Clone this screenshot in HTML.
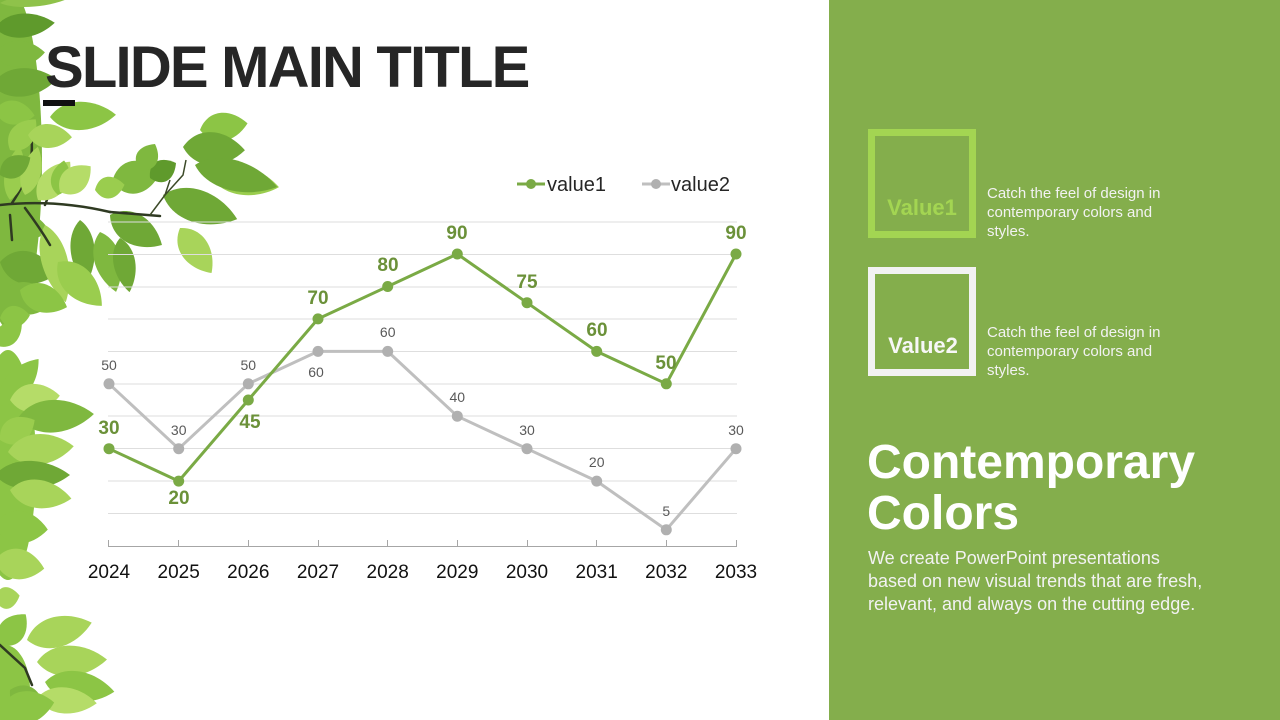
<!DOCTYPE html>
<html>
<head>
<meta charset="utf-8">
<style>
  html,body{margin:0;padding:0;background:#fff;}
  body{width:1280px;height:720px;overflow:hidden;position:relative;font-family:"Liberation Sans",sans-serif;}
  svg{position:absolute;left:0;top:0;}
</style>
</head>
<body>
<svg width="1280" height="720" viewBox="0 0 1280 720" xmlns="http://www.w3.org/2000/svg">
  <defs>
    <path id="lf" d="M0 0C22 -15 68 -14 100 0C68 14 22 15 0 0Z"/>
  </defs>
  <rect x="0" y="0" width="1280" height="720" fill="#ffffff"/>

  <!-- dense base foliage -->
  <g>
    <ellipse cx="10" cy="160" rx="32" ry="170" fill="#7fb83f"/>
    <ellipse cx="8" cy="465" rx="28" ry="115" fill="#8cc545"/>
    <ellipse cx="5" cy="690" rx="25" ry="45" fill="#8cc545"/>
  </g>

  <!-- branches -->
  <g stroke="#2f3a22" stroke-width="2.5" fill="none" stroke-linecap="round">
    <path d="M30 130 Q38 165 12 203"/>
    <path d="M58 170 L45 205"/>
  </g>

  <!-- leaves -->
  <g>
    <!-- top-left -->
    <use href="#lf" transform="translate(0 3) rotate(-3) scale(0.66 0.5)" fill="#8fc24a"/>
    <use href="#lf" transform="translate(-5 28) rotate(-5) scale(0.6 1.1)" fill="#5f9a2c"/>
    <use href="#lf" transform="translate(-5 55) rotate(-3) scale(0.5 1.2)" fill="#7fb83f"/>
    <use href="#lf" transform="translate(-8 85) rotate(-5) scale(0.65 1.3)" fill="#6fa836"/>
    <use href="#lf" transform="translate(-5 110) rotate(8) scale(0.4 1.1)" fill="#8cc545"/>
    <use href="#lf" transform="translate(10 150) rotate(-50) scale(0.4 1.1)" fill="#9acd4e"/>
    <use href="#lf" transform="translate(50 117) rotate(-2) scale(0.66 1.3)" fill="#8cc545"/>
    <use href="#lf" transform="translate(28 135) rotate(3) scale(0.44 1.1)" fill="#a8d45a"/>
    <use href="#lf" transform="translate(10 200) rotate(-80) scale(0.55 0.9)" fill="#9acd4e"/>
    <use href="#lf" transform="translate(25 195) rotate(-75) scale(0.5 0.9)" fill="#a8d45a"/>
    <use href="#lf" transform="translate(38 200) rotate(-50) scale(0.5 1.2)" fill="#b5dc68"/>
    <use href="#lf" transform="translate(58 195) rotate(-80) scale(0.35 0.9)" fill="#8cc545"/>
    <use href="#lf" transform="translate(0 175) rotate(-30) scale(0.35 1.0)" fill="#6fa836"/>

    <!-- branch cluster -->
    <use href="#lf" transform="translate(200 130) rotate(-8) scale(0.48 1.3)" fill="#8cc545"/>
    <use href="#lf" transform="translate(183 147) rotate(3) scale(0.62 1.5)" fill="#6fa836"/>
    <use href="#lf" transform="translate(210 175) rotate(10) scale(0.7 1.3)" fill="#9acd4e"/>
    <use href="#lf" transform="translate(195 165) rotate(15) scale(0.85 1.4)" fill="#6fa836"/>
    <use href="#lf" transform="translate(112 182) rotate(-12) scale(0.5 1.5)" fill="#7fb83f"/>
    <use href="#lf" transform="translate(150 178) rotate(-30) scale(0.3 1.0)" fill="#5f9a2c"/>
    <use href="#lf" transform="translate(163 195) rotate(18) scale(0.78 1.5)" fill="#6fa836"/>
    <use href="#lf" transform="translate(110 215) rotate(30) scale(0.6 1.4)" fill="#6fa836"/>
    <use href="#lf" transform="translate(180 228) rotate(55) scale(0.55 1.3)" fill="#a8d45a"/>
    <use href="#lf" transform="translate(80 220) rotate(85) scale(0.65 1.1)" fill="#6fa836"/>
    <use href="#lf" transform="translate(100 232) rotate(75) scale(0.62 1.2)" fill="#7fb83f"/>
    <use href="#lf" transform="translate(120 238) rotate(80) scale(0.55 1.0)" fill="#6fa836"/>
    <use href="#lf" transform="translate(60 192) rotate(-40) scale(0.4 1.2)" fill="#b5dc68"/>
    <use href="#lf" transform="translate(95 190) rotate(-10) scale(0.3 1.0)" fill="#9acd4e"/>
    <use href="#lf" transform="translate(140 170) rotate(-60) scale(0.3 1.0)" fill="#7fb83f"/>
    <use href="#lf" transform="translate(0 222) rotate(10) scale(0.5 1.3)" fill="#7fb83f"/>
    <use href="#lf" transform="translate(0 262) rotate(12) scale(0.58 1.5)" fill="#6fa836"/>
    <use href="#lf" transform="translate(0 295) rotate(8) scale(0.55 1.5)" fill="#7fb83f"/>
    <use href="#lf" transform="translate(45 225) rotate(75) scale(0.8 1.2)" fill="#a8d45a"/>
    <use href="#lf" transform="translate(58 262) rotate(45) scale(0.62 1.4)" fill="#9acd4e"/>
    <use href="#lf" transform="translate(20 290) rotate(20) scale(0.5 1.3)" fill="#8cc545"/>
    <use href="#lf" transform="translate(0 318) rotate(-5) scale(0.3 1.0)" fill="#8cc545"/>

    <!-- middle-left -->
    <use href="#lf" transform="translate(-5 345) rotate(-40) scale(0.35 1.0)" fill="#8cc545"/>
    <use href="#lf" transform="translate(0 405) rotate(-50) scale(0.6 1.2)" fill="#8cc545"/>
    <use href="#lf" transform="translate(10 400) rotate(-5) scale(0.5 1.3)" fill="#b5dc68"/>
    <use href="#lf" transform="translate(18 418) rotate(-3) scale(0.76 1.5)" fill="#7fb83f"/>
    <use href="#lf" transform="translate(0 440) rotate(-30) scale(0.4 1.2)" fill="#9acd4e"/>
    <use href="#lf" transform="translate(8 452) rotate(-5) scale(0.66 1.4)" fill="#a8d45a"/>
    <use href="#lf" transform="translate(-5 475) rotate(0) scale(0.75 1.3)" fill="#6fa836"/>
    <use href="#lf" transform="translate(10 490) rotate(8) scale(0.62 1.3)" fill="#a8d45a"/>
    <use href="#lf" transform="translate(-5 525) rotate(5) scale(0.53 1.5)" fill="#8cc545"/>
    <use href="#lf" transform="translate(-5 560) rotate(10) scale(0.5 1.4)" fill="#a8d45a"/>

    <!-- bottom -->
    <use href="#lf" transform="translate(-5 600) rotate(-10) scale(0.25 1.0)" fill="#a8d45a"/>
    <use href="#lf" transform="translate(0 645) rotate(-50) scale(0.4 1.2)" fill="#8cc545"/>
    <use href="#lf" transform="translate(27 640) rotate(-15) scale(0.67 1.4)" fill="#a8d45a"/>
    <use href="#lf" transform="translate(37 662) rotate(-2) scale(0.7 1.4)" fill="#a8d45a"/>
    <use href="#lf" transform="translate(45 682) rotate(8) scale(0.7 1.4)" fill="#8cc545"/>
    <use href="#lf" transform="translate(10 690) rotate(30) scale(0.4 1.2)" fill="#7fb83f"/>
    <use href="#lf" transform="translate(37 698) rotate(5) scale(0.6 1.2)" fill="#b5dc68"/>
    <use href="#lf" transform="translate(0 712) rotate(-10) scale(0.55 1.5)" fill="#8cc545"/>
  </g>

  <!-- branches over leaves -->
  <g stroke="#2f3a22" stroke-width="2.5" fill="none" stroke-linecap="round">
    <path d="M0 205 Q55 199 110 212"/>
    <path d="M25 208 Q40 228 50 245"/>
    <path d="M10 215 L12 240"/>
    <path d="M110 212 L160 216"/>
    <path d="M0 645 L25 668 L32 685"/>
  </g>
  <g stroke="#3c4a28" stroke-width="1.5" fill="none">
    <path d="M150 215 L165 195 L183 175 L186 160"/>
    <path d="M165 195 L170 180"/>
  </g>

  <!-- title -->
  <text x="45" y="87" font-family="Liberation Sans, sans-serif" font-weight="bold" font-size="58" letter-spacing="-1.8" fill="#262626">SLIDE MAIN TITLE</text>
  <rect x="43" y="100" width="32" height="6" fill="#111111"/>

  <!-- gridlines -->
  <g stroke="#dedede" stroke-width="1">
    <line x1="108" y1="222" x2="737" y2="222"/>
    <line x1="108" y1="254.5" x2="737" y2="254.5"/>
    <line x1="108" y1="287" x2="737" y2="287"/>
    <line x1="108" y1="319" x2="737" y2="319"/>
    <line x1="108" y1="351.5" x2="737" y2="351.5"/>
    <line x1="108" y1="384" x2="737" y2="384"/>
    <line x1="108" y1="416" x2="737" y2="416"/>
    <line x1="108" y1="448.5" x2="737" y2="448.5"/>
    <line x1="108" y1="481" x2="737" y2="481"/>
    <line x1="108" y1="513.5" x2="737" y2="513.5"/>
  </g>
  <!-- axis -->
  <g stroke="#a6a6a6" stroke-width="1">
    <line x1="108" y1="546.5" x2="737" y2="546.5"/>
    <line x1="108.5" y1="540" x2="108.5" y2="547"/>
    <line x1="178.5" y1="540" x2="178.5" y2="547"/>
    <line x1="248.5" y1="540" x2="248.5" y2="547"/>
    <line x1="318.5" y1="540" x2="318.5" y2="547"/>
    <line x1="387.5" y1="540" x2="387.5" y2="547"/>
    <line x1="457.5" y1="540" x2="457.5" y2="547"/>
    <line x1="527.5" y1="540" x2="527.5" y2="547"/>
    <line x1="596.5" y1="540" x2="596.5" y2="547"/>
    <line x1="666.5" y1="540" x2="666.5" y2="547"/>
    <line x1="736.5" y1="540" x2="736.5" y2="547"/>
  </g>

  <!-- x labels -->
  <g font-family="Liberation Sans, sans-serif" font-size="19" fill="#111" text-anchor="middle">
    <text x="109" y="578">2024</text>
    <text x="178.7" y="578">2025</text>
    <text x="248.3" y="578">2026</text>
    <text x="318" y="578">2027</text>
    <text x="387.7" y="578">2028</text>
    <text x="457.3" y="578">2029</text>
    <text x="527" y="578">2030</text>
    <text x="596.7" y="578">2031</text>
    <text x="666.3" y="578">2032</text>
    <text x="736" y="578">2033</text>
  </g>

  <!-- value2 series -->
  <polyline fill="none" stroke="#bfbfbf" stroke-width="3" stroke-linejoin="round"
    points="109,383.8 178.7,448.7 248.3,383.8 318,351.4 387.7,351.4 457.3,416.2 527,448.7 596.7,481.1 666.3,529.8 736,448.7"/>
  <g fill="#b0b0b0">
    <circle cx="109" cy="383.8" r="5.5"/>
    <circle cx="178.7" cy="448.7" r="5.5"/>
    <circle cx="248.3" cy="383.8" r="5.5"/>
    <circle cx="318" cy="351.4" r="5.5"/>
    <circle cx="387.7" cy="351.4" r="5.5"/>
    <circle cx="457.3" cy="416.2" r="5.5"/>
    <circle cx="527" cy="448.7" r="5.5"/>
    <circle cx="596.7" cy="481.1" r="5.5"/>
    <circle cx="666.3" cy="529.8" r="5.5"/>
    <circle cx="736" cy="448.7" r="5.5"/>
  </g>
  <g font-family="Liberation Sans, sans-serif" font-size="14" fill="#595959" text-anchor="middle">
    <text x="109" y="370">50</text>
    <text x="178.7" y="435">30</text>
    <text x="248.3" y="370">50</text>
    <text x="316" y="377">60</text>
    <text x="387.7" y="337">60</text>
    <text x="457.3" y="402">40</text>
    <text x="527" y="435">30</text>
    <text x="596.7" y="467">20</text>
    <text x="666.3" y="516">5</text>
    <text x="736" y="435">30</text>
  </g>

  <!-- value1 series -->
  <polyline fill="none" stroke="#7aaa45" stroke-width="3" stroke-linejoin="round"
    points="109,448.7 178.7,481.1 248.3,400 318,318.9 387.7,286.5 457.3,254 527,302.7 596.7,351.4 666.3,383.8 736,254"/>
  <g fill="#7aaa45">
    <circle cx="109" cy="448.7" r="5.5"/>
    <circle cx="178.7" cy="481.1" r="5.5"/>
    <circle cx="248.3" cy="400" r="5.5"/>
    <circle cx="318" cy="318.9" r="5.5"/>
    <circle cx="387.7" cy="286.5" r="5.5"/>
    <circle cx="457.3" cy="254" r="5.5"/>
    <circle cx="527" cy="302.7" r="5.5"/>
    <circle cx="596.7" cy="351.4" r="5.5"/>
    <circle cx="666.3" cy="383.8" r="5.5"/>
    <circle cx="736" cy="254" r="5.5"/>
  </g>
  <g font-family="Liberation Sans, sans-serif" font-size="19" font-weight="bold" fill="#6b9139" text-anchor="middle">
    <text x="109" y="434">30</text>
    <text x="179" y="504">20</text>
    <text x="250" y="428">45</text>
    <text x="318" y="304">70</text>
    <text x="388" y="271">80</text>
    <text x="457" y="239">90</text>
    <text x="527" y="288">75</text>
    <text x="597" y="336">60</text>
    <text x="666" y="369">50</text>
    <text x="736" y="239">90</text>
  </g>

  <!-- legend -->
  <line x1="517" y1="184" x2="545" y2="184" stroke="#7aaa45" stroke-width="3"/>
  <circle cx="531" cy="184" r="5" fill="#7aaa45"/>
  <text x="547" y="191" font-family="Liberation Sans, sans-serif" font-size="20" fill="#262626">value1</text>
  <line x1="642" y1="184" x2="670" y2="184" stroke="#bfbfbf" stroke-width="3"/>
  <circle cx="656" cy="184" r="5" fill="#b0b0b0"/>
  <text x="671" y="191" font-family="Liberation Sans, sans-serif" font-size="20" fill="#262626">value2</text>

  <!-- right panel -->
  <rect x="829" y="0" width="451" height="720" fill="#84ae4c"/>
  <rect x="871.5" y="132.5" width="101" height="102" fill="none" stroke="#a3d552" stroke-width="7"/>
  <text x="922" y="215" font-family="Liberation Sans, sans-serif" font-weight="bold" font-size="22" fill="#a3d552" text-anchor="middle">Value1</text>
  <rect x="871.5" y="270.5" width="101" height="102" fill="none" stroke="#f2f2f2" stroke-width="7"/>
  <text x="923" y="353" font-family="Liberation Sans, sans-serif" font-weight="bold" font-size="22" fill="#f7f7f7" text-anchor="middle">Value2</text>

  <g font-family="Liberation Sans, sans-serif" font-size="15" fill="#f2f2f2">
    <text x="987" y="198">Catch the feel of design in</text>
    <text x="987" y="217">contemporary colors and</text>
    <text x="987" y="236">styles.</text>
    <text x="987" y="337">Catch the feel of design in</text>
    <text x="987" y="356">contemporary colors and</text>
    <text x="987" y="375">styles.</text>
  </g>

  <g font-family="Liberation Sans, sans-serif" font-size="48" font-weight="bold" fill="#ffffff">
    <text x="867" y="478">Contemporary</text>
    <text x="867" y="529">Colors</text>
  </g>
  <g font-family="Liberation Sans, sans-serif" font-size="18" fill="#f2f2f2">
    <text x="868" y="564">We create PowerPoint presentations</text>
    <text x="868" y="587">based on new visual trends that are fresh,</text>
    <text x="868" y="610">relevant, and always on the cutting edge.</text>
  </g>
</svg>
</body>
</html>
